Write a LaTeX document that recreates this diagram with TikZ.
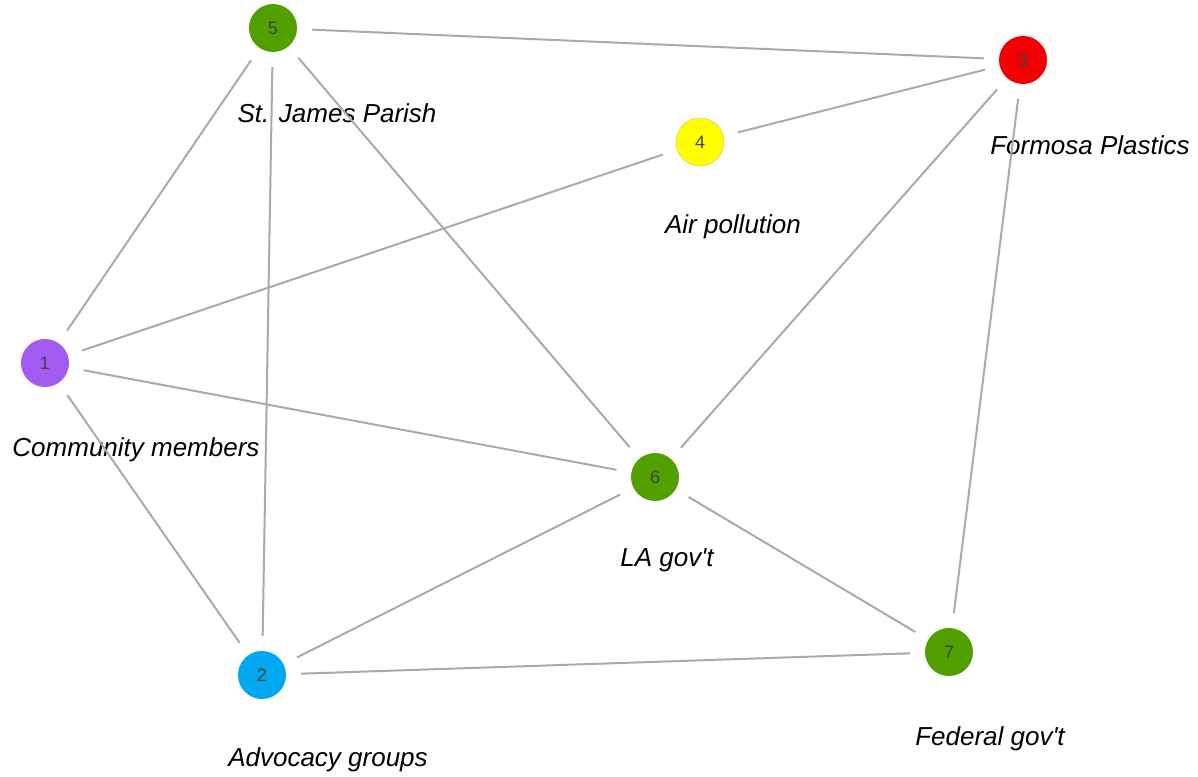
\documentclass[tikz,border=0pt]{standalone}
\usepackage{fontspec}
\setmainfont{Liberation Sans}
\usepackage{xcolor}
\usepackage{tikz}
\usetikzlibrary{calc,positioning}

\definecolor{actgreen}{HTML}{52A000}
\definecolor{actred}{HTML}{F00000}
\definecolor{actyellow}{HTML}{FFFF00}
\definecolor{actpurple}{HTML}{A35CF2}
\definecolor{actblue}{HTML}{00A8F2}
\definecolor{edgegray}{HTML}{AAAAAA}

\tikzset{
  actor/.style={circle,minimum size=48pt,inner sep=0pt,text=black!75,
    font=\fontsize{18}{20}\selectfont},
  tag/.style={font=\fontsize{26}{30}\selectfont\itshape},
  tie/.style={draw=edgegray,line width=2pt,shorten <=15pt,shorten >=15pt}
}

\begin{document}
\begin{tikzpicture}[x=1pt,y=-1pt]
  \useasboundingbox [fill=white] (0,0) rectangle (1198,776);
  % actors
  \node [actor,fill=actpurple] (n1) at (45,363) {1};
  \node [actor,fill=actblue] (n2) at (262,675) {2};
  \node [actor,fill=actred] (n3) at (1023,60) {3};
  \node [actor,fill=actyellow,draw=actyellow!70!black!60,line width=0.6pt] (n4) at (700,142) {4};
  \node [actor,fill=actgreen] (n5) at (273,28) {5};
  \node [actor,fill=actgreen] (n6) at (655,477) {6};
  \node [actor,fill=actgreen] (n7) at (949,652) {7};
  % names
  \node [tag] (t1) at (136,450) {Community members};
  \node [tag] (t2) at (328,760) {Advocacy groups};
  \node [tag] (t3) at (1090,145) {Formosa Plastics};
  \node [tag] (t4) at (733,227) {Air pollution};
  \node [tag] (t5) at (337,113) {St. James Parish};
  \node [tag] (t6) at (667,560) {LA gov\textquotesingle t};
  \node [tag] (t7) at (990,739) {Federal gov\textquotesingle t};
  % ties
  \foreach \a/\b in {5/3,5/1,5/2,5/6,3/4,3/6,3/7,4/1,1/6,1/2,6/2,6/7,2/7}
    \draw [tie] (n\a) -- (n\b);
\end{tikzpicture}
\end{document}
